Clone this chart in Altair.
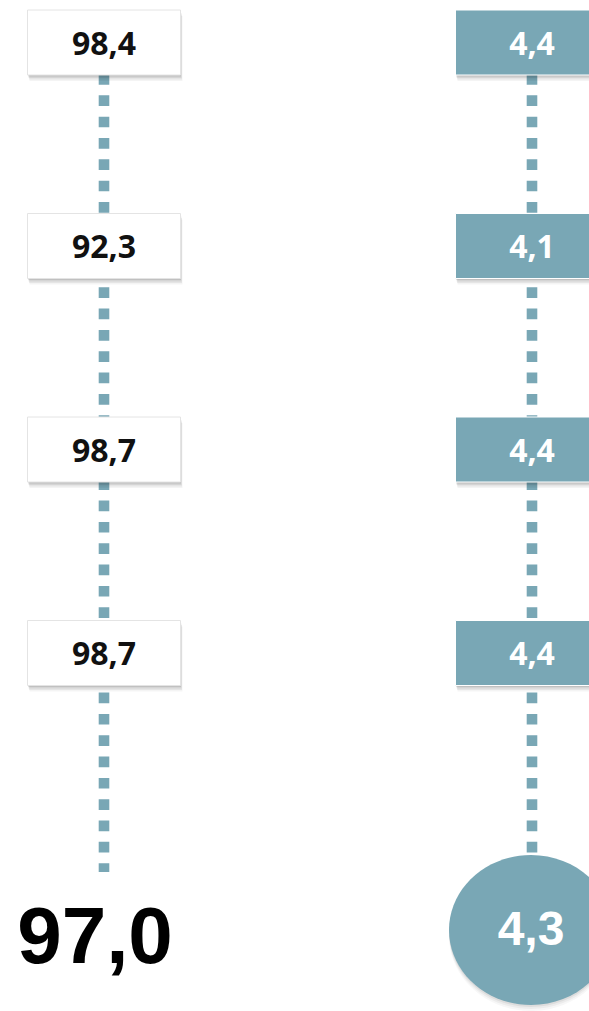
import altair as alt
import pandas as pd

# Row values, top to bottom
share_values = [98.4, 92.3, 98.7, 98.7]
share_total = [97.0]
score_values = [4.4, 4.1, 4.4, 4.4]
score_total = [4.3]
sides = ["left", "right"]

# Layout (pixels)
W, H = 589, 1011
TEAL = "#79a7b5"
LEFT_X, RIGHT_X = 104, 532
ROW_Y0, ROW_STEP = 42.5, 203.5
BOX_W, BOX_H = 153, 65
LINE_END_LEFT, LINE_END_RIGHT = 872, 880
TOTAL_BASE_LEFT, TOTAL_BASE_RIGHT = 963, 945
ELLIPSE_X, ELLIPSE_Y, ELLIPSE_RX = 531, 930, 82

xs = alt.Scale(domain=[0, W], range=[0, W], nice=False, zero=False)
ys = alt.Scale(domain=[0, H], range=[0, H], nice=False, zero=False)
side_fill = alt.Scale(domain=sides, range=["#ffffff", TEAL])
side_text = alt.Scale(domain=sides, range=["#111111", "#ffffff"])
side_stroke = alt.Scale(domain=sides, range=["#e4e4e4", "#ffffff"])

cx_expr = f"datum.side == 'left' ? {LEFT_X} : {RIGHT_X}"
label_expr = "replace(format(datum.value, '.1f'), '.', ',')"

boxes = pd.DataFrame({
    "side": ["left"] * len(share_values) + ["right"] * len(score_values),
    "row": list(range(len(share_values))) + list(range(len(score_values))),
    "value": share_values + score_values,
})
totals = pd.DataFrame({"side": sides, "value": share_total + score_total})
lines = pd.DataFrame({"side": sides})


def box_geometry(chart, dx=0.0, dy=0.0):
    return chart.transform_calculate(
        cx=cx_expr,
        cy=f"{ROW_Y0} + datum.row * {ROW_STEP}",
    ).transform_calculate(
        x0=f"datum.cx - {BOX_W / 2} + {dx}",
        x1=f"datum.cx + {BOX_W / 2} + {dx}",
        y0=f"datum.cy - {BOX_H / 2} + {dy}",
        y1=f"datum.cy + {BOX_H / 2} + {dy}",
    )


# Dotted connectors
connectors = alt.Chart(lines).transform_calculate(
    cx=cx_expr,
    y0=f"{ROW_Y0 - BOX_H / 2}",
    y1=f"datum.side == 'left' ? {LINE_END_LEFT} : {LINE_END_RIGHT}",
).mark_rule(strokeWidth=10.6, strokeDash=[10.7, 10.63], color=TEAL).encode(
    x=alt.X("cx:Q", scale=xs, axis=None),
    y=alt.Y("y0:Q", scale=ys, axis=None),
    y2="y1:Q",
)

# Soft drop shadows under the boxes
shadow_layers = []
for i, (dx, dy) in enumerate([(0.5, 1.5), (1.0, 3.0), (1.5, 4.5), (2.0, 6.0)]):
    shadow_layers.append(
        box_geometry(alt.Chart(boxes), dx, dy)
        .mark_rect(color="#000000", opacity=0.09 - 0.015 * i)
        .encode(
            x=alt.X("x0:Q", scale=xs, axis=None),
            x2="x1:Q",
            y=alt.Y("y0:Q", scale=ys, axis=None),
            y2="y1:Q",
        )
    )

rects = box_geometry(alt.Chart(boxes)).mark_rect(strokeWidth=1).encode(
    x=alt.X("x0:Q", scale=xs, axis=None),
    x2="x1:Q",
    y=alt.Y("y0:Q", scale=ys, axis=None),
    y2="y1:Q",
    fill=alt.Fill("side:N", scale=side_fill, legend=None),
    stroke=alt.Stroke("side:N", scale=side_stroke, legend=None),
)

labels = alt.Chart(boxes).transform_calculate(
    cx=cx_expr,
    by=f"{ROW_Y0} + datum.row * {ROW_STEP} + 12",
    label=label_expr,
).mark_text(
    font="Open Sans", fontWeight="bold", fontSize=32, align="center", baseline="alphabetic"
).encode(
    x=alt.X("cx:Q", scale=xs, axis=None),
    y=alt.Y("by:Q", scale=ys, axis=None),
    text="label:N",
    color=alt.Color("side:N", scale=side_text, legend=None),
)

# Summary row: plain figure on the left, ellipse badge on the right
ellipse_path = "M-1,0A1,0.915,0,1,1,1,0A1,0.915,0,1,1,-1,0Z"
badge_size = (2 * ELLIPSE_RX) ** 2

badge_data = totals[totals["side"] == "right"]
badge_shadows = []
for i, dy in enumerate([2.0, 4.0, 6.0]):
    badge_shadows.append(
        alt.Chart(badge_data).transform_calculate(
            bx=f"{ELLIPSE_X}", byy=f"{ELLIPSE_Y} + {dy}"
        ).mark_point(
            shape=ellipse_path, size=badge_size, filled=True, fill="#000000",
            opacity=0.06 - 0.015 * i, strokeWidth=0,
        ).encode(
            x=alt.X("bx:Q", scale=xs, axis=None),
            y=alt.Y("byy:Q", scale=ys, axis=None),
        )
    )

badge = alt.Chart(badge_data).transform_calculate(
    bx=f"{ELLIPSE_X}", byy=f"{ELLIPSE_Y}"
).mark_point(
    shape=ellipse_path, size=badge_size, filled=True, fill=TEAL, opacity=1, strokeWidth=0,
).encode(
    x=alt.X("bx:Q", scale=xs, axis=None),
    y=alt.Y("byy:Q", scale=ys, axis=None),
)

total_left = alt.Chart(totals[totals["side"] == "left"]).transform_calculate(
    tx="95", ty=f"{TOTAL_BASE_LEFT}", label=label_expr,
).mark_text(
    font="Liberation Sans", fontWeight="bold", fontSize=80, align="center",
    baseline="alphabetic", color="#000000",
).encode(
    x=alt.X("tx:Q", scale=xs, axis=None),
    y=alt.Y("ty:Q", scale=ys, axis=None),
    text="label:N",
)

total_right = alt.Chart(badge_data).transform_calculate(
    tx=f"{ELLIPSE_X}", ty=f"{TOTAL_BASE_RIGHT}", label=label_expr,
).mark_text(
    font="Liberation Sans", fontWeight="bold", fontSize=48, align="center",
    baseline="alphabetic", color="#ffffff",
).encode(
    x=alt.X("tx:Q", scale=xs, axis=None),
    y=alt.Y("ty:Q", scale=ys, axis=None),
    text="label:N",
)

chart = alt.layer(
    connectors, *shadow_layers, rects, labels,
    *badge_shadows, badge, total_left, total_right,
).properties(
    width=W, height=H, padding=0, autosize=alt.AutoSizeParams(type="none"),
    background="#ffffff",
).configure_view(stroke=None)

chart.save("out.html", embed_options={"renderer": "svg", "actions": False})
